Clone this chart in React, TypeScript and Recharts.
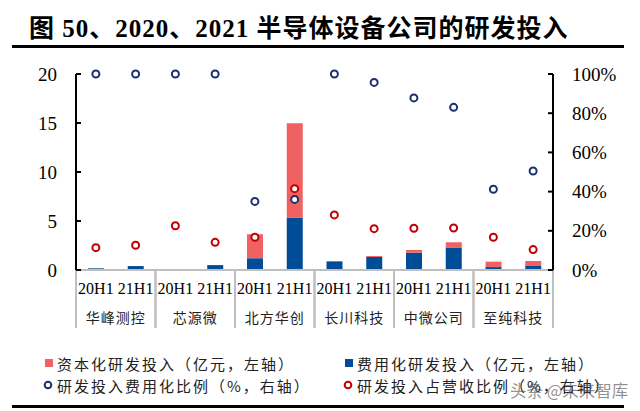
import React from "react";
import { ComposedChart, Bar, Line, XAxis, YAxis } from "recharts";

const companies = ["华峰测控", "芯源微", "北方华创", "长川科技", "中微公司", "至纯科技"];
const periods = ["20H1", "21H1"];

// 费用化研发投入（亿元，左轴）
const expensed = [0.17, 0.4, 0, 0.5, 1.2, 5.35, 0.88, 1.33, 1.77, 2.3, 0.3, 0.41];
// 资本化研发投入（亿元，左轴）
const capitalized = [0, 0, 0, 0, 2.45, 9.62, 0, 0.1, 0.27, 0.53, 0.55, 0.51];
// 研发投入费用化比例（%，右轴）
const expenseRatio = [100, 100, 100, 100, 35, 36, 100, 95.7, 87.8, 83, 41.2, 50.5];
// 研发投入占营收比例（%，右轴）
const revenueRatio = [11.4, 12.6, 22.6, 14.1, 16.7, 41.5, 28.1, 21.1, 21.3, 21.4, 16.7, 10.4];

const leftTicks = [0, 5, 10, 15, 20];
const rightTicks = [0, 20, 40, 60, 80, 100];

const data = expensed.map((v, i) => ({
  period: periods[i % 2],
  company: companies[Math.floor(i / 2)],
  expensed: v,
  capitalized: capitalized[i],
  expenseRatio: expenseRatio[i],
  revenueRatio: revenueRatio[i],
}));

const RED = "#f06262";
const BLUE = "#004c97";
const NAVY = "#1c2f6e";
const DARKRED = "#c00000";
const GRID = "#bfbfbf";
const SERIF = "'Liberation Serif', 'Times New Roman', serif";
const CJK = "'Noto Sans CJK SC', sans-serif";

const PLOT_L = 76;
const PLOT_R = 553;
const CAT_W = (PLOT_R - PLOT_L) / data.length;
const GAP = 19;

function CategoryTick(props: any) {
  const { x, y, payload, index } = props;
  const first = index % 2 === 0;
  const edge = first ? x - CAT_W / 2 : x + CAT_W / 2;
  return (
    <g>
      <line x1={edge} x2={edge} y1={y} y2={y + 58} stroke={GRID} strokeWidth={2} />
      <text x={x} y={y + 18} textAnchor="middle" dominantBaseline="central" fontFamily={SERIF} fontSize={16} fill="#000">
        {payload.value}
      </text>
      {first && (
        <text x={x + CAT_W / 2} y={y + 47} textAnchor="middle" dominantBaseline="central" fontFamily={CJK} fontSize={14} letterSpacing={1} fill="#222">
          {data[index].company}
        </text>
      )}
    </g>
  );
}

function LeftTick(props: any) {
  const { x, y, payload } = props;
  return (
    <g>
      <line x1={x + GAP} x2={x + GAP + 5} y1={y} y2={y} stroke="#000" strokeWidth={2} />
      <text x={x} y={y} textAnchor="end" dominantBaseline="central" fontFamily={SERIF} fontSize={19} fill="#000">
        {payload.value}
      </text>
    </g>
  );
}

function RightTick(props: any) {
  const { x, y, payload } = props;
  return (
    <g>
      <line x1={x - GAP} x2={x - GAP - 5} y1={y} y2={y} stroke="#000" strokeWidth={2} />
      <text x={x} y={y} textAnchor="start" dominantBaseline="central" fontFamily={SERIF} fontSize={19} fill="#000">
        {payload.value + "%"}
      </text>
    </g>
  );
}

const legendText = { fontFamily: CJK, fontSize: 15, letterSpacing: 2, fill: "#222" };

export default function App() {
  return (
    <div style={{ position: "absolute", left: 0, top: 0, width: 640, height: 411, background: "#fff" }}>
      <ComposedChart width={640} height={411} data={data} margin={{ top: 74, right: 0, bottom: 81, left: 0 }}>
        <XAxis
          dataKey="period"
          interval={0}
          height={60}
          tickSize={0}
          tickMargin={0}
          tickLine={false}
          axisLine={{ stroke: GRID, strokeWidth: 2 }}
          tick={<CategoryTick />}
        />
        <YAxis
          yAxisId="left"
          domain={[0, 20]}
          ticks={leftTicks}
          width={PLOT_L}
          tickSize={0}
          tickMargin={GAP}
          tickLine={false}
          axisLine={{ stroke: "#000", strokeWidth: 2 }}
          tick={<LeftTick />}
        />
        <YAxis
          yAxisId="right"
          orientation="right"
          domain={[0, 100]}
          ticks={rightTicks}
          width={640 - PLOT_R}
          tickSize={0}
          tickMargin={GAP}
          tickLine={false}
          axisLine={{ stroke: "#000", strokeWidth: 2 }}
          tick={<RightTick />}
        />
        <Bar yAxisId="left" dataKey="expensed" stackId="rd" fill={BLUE} barSize={16} isAnimationActive={false} />
        <Bar yAxisId="left" dataKey="capitalized" stackId="rd" fill={RED} barSize={16} isAnimationActive={false} />
        <Line
          yAxisId="right"
          dataKey="expenseRatio"
          stroke="none"
          dot={{ r: 3.5, stroke: NAVY, strokeWidth: 2, fill: "#fff" }}
          activeDot={false}
          isAnimationActive={false}
        />
        <Line
          yAxisId="right"
          dataKey="revenueRatio"
          stroke="none"
          dot={{ r: 3.5, stroke: DARKRED, strokeWidth: 2, fill: "#fff" }}
          activeDot={false}
          isAnimationActive={false}
        />
      </ComposedChart>
      <svg width={640} height={411} style={{ position: "absolute", left: 0, top: 0, pointerEvents: "none" }}>
        <text x={29} y={37} fontFamily={SERIF + ", " + CJK} fontWeight="bold" fontSize={25} letterSpacing={1} fill="#000">
          图 50、2020、2021 半导体设备公司的研发投入
        </text>
        <rect x={12} y={45} width={612} height={3} fill="#000" />

        <rect x={45} y={359} width={8} height={8} fill={RED} />
        <text x={57} y={363} dominantBaseline="central" {...legendText}>资本化研发投入（亿元，左轴）</text>
        <rect x={345} y={359} width={8} height={8} fill={BLUE} />
        <text x={357} y={363} dominantBaseline="central" {...legendText}>费用化研发投入（亿元，左轴）</text>
        <circle cx={48} cy={385} r={3.3} fill="#fff" stroke={NAVY} strokeWidth={2} />
        <text x={57} y={385} dominantBaseline="central" {...legendText}>研发投入费用化比例（%，右轴）</text>
        <circle cx={348} cy={385} r={3.3} fill="#fff" stroke={DARKRED} strokeWidth={2} />
        <text x={357} y={385} dominantBaseline="central" {...legendText}>研发投入占营收比例（%，右轴）</text>
        <text x={510} y={390} dominantBaseline="central" fontFamily={CJK} fontSize={16.5} fill="rgba(70,70,70,0.6)">
          头条 @未来智库
        </text>

        <rect x={12} y={405} width={612} height={3} fill="#000" />
      </svg>
    </div>
  );
}
